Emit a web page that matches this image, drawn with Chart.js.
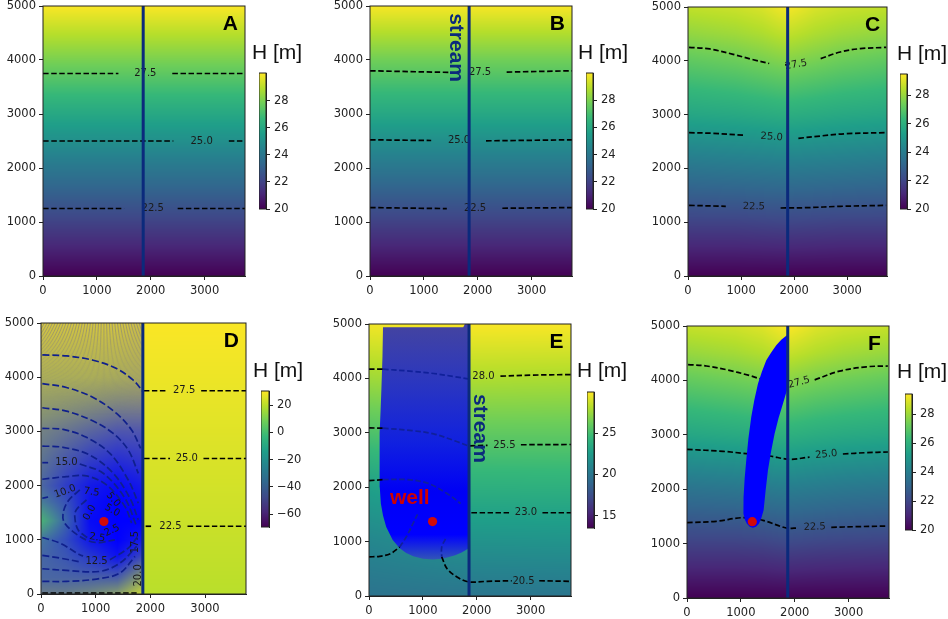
<!DOCTYPE html>
<html>
<head>
<meta charset="utf-8">
<title>Head maps</title>
<script src="https://cdn.jsdelivr.net/npm/chart.js@4"></script>
<style>
  html, body { margin: 0; background: #fff; }
  body { position: relative; width: 948px; height: 619px; overflow: hidden; }
  canvas { position: absolute; filter: blur(0.3px); }
  .hlabel { position: absolute; font: 21px "Liberation Sans", sans-serif; color: #111; line-height: 24px; white-space: nowrap; }
</style>
</head>
<body>
<script>
// ---- axis ticks
const xTickValues = [0, 1000, 2000, 3000];
const yTickValues = [0, 1000, 2000, 3000, 4000, 5000];
const barTicksTen = [20, 22, 24, 26, 28];
const barTicksD = [-60, -40, -20, 0, 20];
const barTicksE = [15, 20, 25];

// ---- field values (head in metres)
const xsFlat = [0, 3750];
const ysFlat = [0, 1000, 2000, 3000, 4000, 5000];
const headsA = [[20, 20], [22, 22], [24, 24], [26, 26], [28, 28], [30, 30]];
const headsB = [[20, 20], [21.95, 21.95], [23.95, 23.95], [25.95, 25.95], [27.8, 27.8], [29.9, 29.9]];

const xsBowl = [0, 900, 1400, 1870, 2400, 2900, 3750];
const ysBowl = [0, 1000, 2000, 3000, 4000, 4500, 5000];
const headsC = [
  [20, 20, 20, 20, 20, 20, 20],
  [21.9, 21.9, 21.95, 22, 21.95, 21.9, 21.9],
  [23.7, 23.8, 23.85, 23.9, 23.85, 23.8, 23.7],
  [25.6, 25.7, 25.8, 25.9, 25.8, 25.7, 25.6],
  [27.1, 27.3, 27.5, 27.7, 27.5, 27.3, 27.1],
  [27.9, 28.1, 28.3, 28.6, 28.3, 28.1, 27.9],
  [28.6, 28.75, 28.95, 29.4, 28.95, 28.75, 28.6]
];
const headsF = [
  [20, 20, 20, 20, 20, 20, 20],
  [21.85, 21.85, 21.9, 22.05, 21.95, 21.9, 21.85],
  [23.6, 23.7, 23.85, 23.95, 23.85, 23.75, 23.65],
  [25.55, 25.7, 25.8, 25.95, 25.8, 25.7, 25.6],
  [27.1, 27.3, 27.45, 27.7, 27.45, 27.3, 27.1],
  [27.9, 28.1, 28.3, 28.6, 28.3, 28.1, 27.9],
  [28.6, 28.75, 28.95, 29.4, 28.95, 28.75, 28.6]
];

const xsWellD = [0, 450, 900, 1400, 1860];
const ysWellD = [0, 300, 700, 1000, 1350, 1700, 2000, 3000, 4000, 5000];
const headsDleft = [
  [21, 20, 20, 21, 24],
  [15, 16, 17, 18, 22],
  [14, 14, 14, 16, 20],
  [10, 13, 14, 16, 20],
  [2, 10, 14, 16, 20],
  [10, 14, 15, 16, 20],
  [16, 17, 17, 18, 21],
  [22, 22, 22, 23, 24],
  [26, 26, 26, 26, 27],
  [30, 30, 30, 30, 30]
];
const plumeAlphaD = [
  [.45, .45, .4, .3, .05],
  [.52, .54, .56, .58, .3],
  [.52, .6, .74, .92, .68],
  [.44, .64, .9, 1, .88],
  [.08, .52, .95, 1, 1],
  [.4, .62, .92, 1, .94],
  [.52, .72, .88, .95, .88],
  [.42, .48, .55, .62, .62],
  [.18, .18, .18, .2, .22],
  [0, 0, 0, 0, .04]
];
const headsDright = [[20, 20], [22, 22], [24, 24], [26, 26], [28, 28], [30, 30]];

const xsE = [0, 1870, 3750];
const headsE = [
  [19.8, 19.95, 20],
  [21.1, 21.9, 21.95],
  [22.8, 23.9, 23.95],
  [25.3, 25.9, 25.9],
  [27.6, 28, 27.9],
  [29.7, 29.9, 29.9]
];

// ---- contours, one array per unbroken piece, [x, y]
const contoursA = [
  [[0, 3750], [1400, 3750]], [[2400, 3750], [3750, 3750]],
  [[0, 2500], [2420, 2500]], [[3450, 2500], [3720, 2500]],
  [[0, 1250], [1505, 1250]], [[2500, 1250], [3750, 1250]]
];
const contourLabelsA = [['27.5', 1900, 3750, 0], ['25.0', 2945, 2500, 0], ['22.5', 2037, 1250, 0]];

const contoursB = [
  [[0, 3800], [1490, 3770]], [[2537, 3776], [3750, 3800]],
  [[0, 2522], [1136, 2509]], [[2154, 2503], [3750, 2522]],
  [[0, 1267], [1426, 1248]], [[2457, 1255], [3750, 1267]]
];
const contourLabelsB = [['27.5', 2043, 3770, 0], ['25.0', 1654, 2509, 0], ['22.5', 1950, 1248, 0]];

const contoursC = [
  [[20, 4250], [410, 4220], [850, 4120], [1230, 4020], [1530, 3950]],
  [[1830, 3930], [1880, 3920]],
  [[2500, 4040], [2870, 4164], [3245, 4226], [3735, 4250]],
  [[20, 2664], [470, 2652], [1077, 2615]],
  [[2080, 2559], [2490, 2602], [2990, 2646], [3735, 2664]],
  [[20, 1313], [712, 1295]],
  [[1745, 1264], [2237, 1270], [2867, 1295], [3735, 1313]]
];
const contourLabelsC = [['27.5', 2035, 3928, -10], ['25.0', 1575, 2584, 4], ['22.5', 1241, 1289, 1]];

const contoursDnavy = [
  [[24, 4411], [465, 4393], [954, 4313], [1382, 4160], [1688, 3945], [1860, 3742]],
  [[24, 3883], [465, 3810], [954, 3626], [1382, 3331], [1657, 3025], [1823, 2687]],
  [[24, 3436], [465, 3374], [954, 3190], [1321, 2963], [1596, 2656], [1780, 2227]],
  [[24, 3055], [404, 3037], [832, 2890], [1260, 2595], [1596, 2104], [1780, 1675]],
  [[24, 2730], [404, 2706], [893, 2564], [1321, 2227], [1627, 1767], [1780, 1368]],
  [[24, 2423], [130, 2423]],
  [[710, 2399], [1138, 2227], [1535, 1767], [1750, 1245]],
  [[24, 2117], [465, 2166], [832, 2178], [1199, 2012], [1535, 1613], [1657, 1307]],
  [[24, 1767], [130, 1790]],
  [[710, 1920], [500, 1720], [404, 1490], [434, 1307], [710, 1061], [1000, 950], [1350, 1000]],
  [[832, 1736], [650, 1560], [618, 1430], [679, 1184], [860, 1030]],
  [[24, 1043], [343, 939], [710, 724], [770, 700]],
  [[1260, 632], [1596, 847], [1760, 1050]],
  [[24, 712], [343, 663], [740, 589]],
  [[24, 466], [465, 435], [1077, 417], [1443, 570], [1750, 877]],
  [[24, 233], [465, 233], [1016, 276], [1443, 386], [1719, 693]]
];
const contoursDblack = [
  [[24, 18], [1750, 18]],
  [[1880, 3750], [2300, 3750]], [[2930, 3750], [3750, 3750]],
  [[1884, 2500], [2360, 2500]], [[2972, 2500], [3750, 2500]],
  [[1914, 1250], [2043, 1250]], [[2680, 1250], [3750, 1250]]
];
const contourLabelsD = [
  ['27.5', 2618, 3750, 0], ['25.0', 2667, 2500, 0], ['22.5', 2367, 1250, 0],
  ['15.0', 465, 2423, 0], ['10.0', 440, 1890, -20], ['7.5', 925, 1880, 8],
  ['5.0', 1320, 1740, 50], ['5.0', 1300, 1540, 30], ['0.0', 890, 1500, -60],
  ['2.5', 1030, 1040, 8], ['2.5', 1300, 1170, -25], ['12.5', 1016, 601, 0],
  ['17.5', 1719, 957, -90], ['20.0', 1780, 344, -90]
];

const contoursEnavy = [
  [[260, 4170], [800, 4130], [1200, 4090], [1600, 4030], [1840, 3990]],
  [[260, 3085], [800, 3040], [1200, 2980], [1600, 2850], [1840, 2760]],
  [[260, 2140], [700, 2140], [1100, 2070], [1500, 1850], [1700, 1700]],
  [[570, 900], [700, 1100], [800, 1300], [900, 1500]],
  [[1420, 1050], [1350, 900], [1350, 720]]
];
const contoursEblack = [
  [[0, 4170], [260, 4170]], [[2440, 4040], [3000, 4060], [3750, 4070]],
  [[0, 3090], [260, 3085]], [[1870, 2760], [2200, 2770]], [[2820, 2780], [3750, 2785]],
  [[0, 2120], [260, 2140]], [[1900, 1530], [2600, 1530]], [[3220, 1530], [3750, 1530]],
  [[0, 720], [200, 730], [400, 780], [570, 900]],
  [[1350, 720], [1450, 500], [1650, 340], [1850, 260], [2200, 270], [2650, 280]],
  [[3160, 280], [3750, 270]]
];
const contourLabelsE = [['28.0', 2124, 4030, 0], ['25.5', 2515, 2773, 0], ['23.0', 2913, 1534, 0], ['20.5', 2870, 276, 0]];

const contoursF = [
  [[20, 4290], [360, 4265], [730, 4197], [1160, 4090], [1380, 4020]],
  [[2370, 4010], [2830, 4170], [3330, 4250], [3730, 4265]],
  [[0, 2733], [670, 2696], [1100, 2653], [1534, 2610], [1905, 2550], [2275, 2590]],
  [[2894, 2647], [3330, 2672], [3730, 2684]],
  [[0, 1385], [544, 1410], [1040, 1477], [1410, 1428], [1843, 1287], [2060, 1287]],
  [[2678, 1299], [3140, 1311], [3730, 1323]]
];
const contourLabelsF = [['27.5', 2080, 3960, -15], ['25.0', 2585, 2640, -5], ['22.5', 2370, 1305, -2]];

// ---- pumped zones
const plumeE = [
  [260, 4940], [1750, 4940], [1780, 5000], [1840, 5000], [1840, 870], [1720, 800], [1600, 750], [1470, 712], [1350, 685], [1190, 670],
  [1000, 685], [820, 730], [690, 790], [570, 880], [440, 1030], [320, 1270], [260, 1480], [220, 1700], [200, 2000], [195, 2500], [200, 3000],
  [215, 3400], [230, 3800], [250, 4400], [260, 4940]
];
const plumeF = [
  [1855, 4828], [1750, 4745], [1657, 4645], [1560, 4510], [1472, 4369], [1390, 4160], [1317, 3940], [1250, 3640],
  [1193, 3327], [1140, 2930], [1100, 2530], [1070, 2190], [1050, 1857], [1045, 1700], [1050, 1550], [1075, 1440],
  [1113, 1366], [1165, 1310], [1224, 1293], [1280, 1310], [1335, 1366], [1380, 1470], [1422, 1611], [1460, 1980],
  [1503, 2347], [1560, 2690], [1626, 3020], [1700, 3310], [1781, 3572], [1855, 3817], [1855, 4828]
];
const wellD = [[1150, 1338]];
const wellE = [[1180, 1368]];
const wellF = [[1212, 1403]];

const NAVY = '#0b2a7c';
const viridisStops = ['#440154', '#482878', '#3e4a89', '#31688e', '#26828e', '#1f9e89', '#35b779', '#6ece58', '#b5de2b', '#fde725'];
const rgbStops = viridisStops.map(h => [1, 3, 5].map(i => parseInt(h.substr(i, 2), 16)));

function viridis(t) {
  t = Math.max(0, Math.min(1, t)) * (rgbStops.length - 1);
  const i = Math.min(rgbStops.length - 2, Math.floor(t));
  const f = t - i;
  return rgbStops[i].map((c, k) => c + (rgbStops[i + 1][k] - c) * f);
}

function sample(xs, ys, grid, x, y) {
  let i = 0, j = 0;
  while (i < xs.length - 2 && x > xs[i + 1]) i++;
  while (j < ys.length - 2 && y > ys[j + 1]) j++;
  const fx = Math.max(0, Math.min(1, (x - xs[i]) / (xs[i + 1] - xs[i])));
  const fy = Math.max(0, Math.min(1, (y - ys[j]) / (ys[j + 1] - ys[j])));
  const a = grid[j][i] + (grid[j][i + 1] - grid[j][i]) * fx;
  const b = grid[j + 1][i] + (grid[j + 1][i + 1] - grid[j + 1][i]) * fx;
  return a + (b - a) * fy;
}

function paintField(chart, panel) {
  const { x: sx, y: sy } = chart.scales;
  const ctx = chart.ctx;
  panel.fields.forEach(f => {
    const x0 = Math.round(sx.getPixelForValue(f.from));
    const x1 = Math.round(sx.getPixelForValue(f.to));
    const y0 = Math.round(sy.getPixelForValue(5000));
    const y1 = Math.round(sy.getPixelForValue(0));
    const w = x1 - x0, h = y1 - y0;
    const off = document.createElement('canvas');
    off.width = w; off.height = h;
    const octx = off.getContext('2d');
    const img = octx.createImageData(w, h);
    for (let py = 0; py < h; py++) {
      const vy = sy.getValueForPixel(y0 + py + 0.5);
      for (let px = 0; px < w; px++) {
        const vx = sx.getValueForPixel(x0 + px + 0.5);
        const H = sample(f.xs, f.ys, f.heads, vx, vy);
        let c = viridis((H - panel.vmin) / (panel.vmax - panel.vmin));
        if (f.alpha) {
          const al = sample(f.xs, f.ys, f.alpha, vx, vy);
          c = [c[0] * (1 - al), c[1] * (1 - al), c[2] * (1 - al) + 255 * al];
        }
        const k = (py * w + px) * 4;
        img.data[k] = c[0]; img.data[k + 1] = c[1]; img.data[k + 2] = c[2]; img.data[k + 3] = 255;
      }
    }
    octx.putImageData(img, 0, 0);
    ctx.drawImage(off, x0, y0);
  });
}

// thin pathlines fanning out of the well, they beat against the pixel grid in panel D
function paintFan(chart) {
  const { x: sx, y: sy } = chart.scales;
  const left = sx.getPixelForValue(0), right = sx.getPixelForValue(1840);
  const top = sy.getPixelForValue(5000), bottom = sy.getPixelForValue(3300);
  const off = document.createElement('canvas');
  off.width = chart.width; off.height = chart.height;
  const o = off.getContext('2d');
  o.lineWidth = 0.7;
  o.strokeStyle = 'rgb(110,110,140)';
  const wx = sx.getPixelForValue(wellD[0][0]), wy = sy.getPixelForValue(wellD[0][1]);
  for (let v = -1500; v < 3000; v += 29) {
    o.beginPath();
    o.moveTo(wx, wy);
    o.lineTo(sx.getPixelForValue(v), top);
    o.stroke();
  }
  o.globalCompositeOperation = 'destination-in';
  const g = o.createLinearGradient(0, top, 0, bottom);
  g.addColorStop(0, 'rgba(0,0,0,0.95)');
  g.addColorStop(0.4, 'rgba(0,0,0,0.5)');
  g.addColorStop(1, 'rgba(0,0,0,0)');
  o.fillStyle = g;
  o.fillRect(0, 0, off.width, off.height);
  chart.ctx.save();
  chart.ctx.beginPath();
  chart.ctx.rect(left, top, right - left, bottom - top);
  chart.ctx.clip();
  chart.ctx.drawImage(off, 0, 0);
  chart.ctx.restore();
}

function paintLabels(chart, panel) {
  const { x: sx, y: sy } = chart.scales;
  const ctx = chart.ctx;
  ctx.save();
  ctx.font = '10px "DejaVu Sans"';
  ctx.fillStyle = '#1a1a1a';
  ctx.textAlign = 'center';
  ctx.textBaseline = 'middle';
  panel.labels.forEach(([txt, x, y, rot]) => {
    ctx.save();
    ctx.translate(sx.getPixelForValue(x), sy.getPixelForValue(y));
    ctx.rotate(rot * Math.PI / 180);
    ctx.fillText(txt, 0, 0);
    ctx.restore();
  });
  ctx.restore();
}

const fieldPlugin = {
  id: 'fieldPlugin',
  beforeDatasetsDraw(chart) {
    const panel = chart.options.plugins.fieldPlugin.panel;
    paintField(chart, panel);
    if (panel.fan) paintFan(chart);
  },
  beforeDatasetDraw(chart, args) {
    if (chart.data.datasets[args.index].isStream) paintLabels(chart, chart.options.plugins.fieldPlugin.panel);
  },
  afterDatasetsDraw(chart) {
    const panel = chart.options.plugins.fieldPlugin.panel;
    const { x: sx, y: sy } = chart.scales;
    const ctx = chart.ctx;
    const a = chart.chartArea;
    ctx.save();
    ctx.strokeStyle = '#222';
    ctx.lineWidth = 1;
    ctx.strokeRect(a.left, a.top, a.right - a.left, a.bottom - a.top);
    ctx.textAlign = 'center';
    ctx.textBaseline = 'middle';
    ctx.font = 'bold 21px "Liberation Sans"';
    ctx.fillStyle = '#000';
    ctx.fillText(panel.letter, sx.getPixelForValue(3480), sy.getPixelForValue(4670));
    if (panel.stream) {
      ctx.fillStyle = NAVY;
      ctx.translate(sx.getPixelForValue(panel.stream[0]), sy.getPixelForValue(panel.stream[1]));
      ctx.rotate(Math.PI / 2);
      ctx.fillText('stream', 0, 0);
      ctx.setTransform(1, 0, 0, 1, 0, 0);
    }
    if (panel.well) {
      ctx.fillStyle = '#d00000';
      ctx.fillText('well', sx.getPixelForValue(panel.well[0]), sy.getPixelForValue(panel.well[1]));
    }
    ctx.restore();
  }
};

const framePlugin = {
  id: 'framePlugin',
  afterDraw(chart) {
    const a = chart.chartArea, ctx = chart.ctx;
    ctx.save();
    ctx.strokeStyle = '#222';
    ctx.lineWidth = 1;
    ctx.strokeRect(a.left, a.top, a.right - a.left, a.bottom - a.top);
    ctx.restore();
  }
};

function toPoints(arr) {
  return arr.map(p => ({ x: p[0], y: p[1] }));
}

function contourSets(pieces, color, order, dash) {
  return pieces.map(p => ({
    data: toPoints(p), showLine: true, pointRadius: 0, borderColor: color, borderWidth: 1.7,
    borderDash: dash || [5.5, 2.6], tension: 0.35, fill: false, order: order
  }));
}

function plumeSet(points, fillColor) {
  return {
    data: toPoints(points), showLine: true, pointRadius: 0, borderWidth: 0, borderColor: 'rgba(0,0,0,0)',
    backgroundColor: fillColor, fill: 'shape', tension: 0, order: 3
  };
}

function streamSet(x) {
  return {
    isStream: true, data: toPoints([[x, 0], [x, 5000]]), showLine: true, pointRadius: 0,
    borderColor: NAVY, borderWidth: 3, order: 1
  };
}

function wellSet(points) {
  return {
    data: toPoints(points), showLine: false, pointRadius: 4.6, pointBackgroundColor: '#d10a0a',
    pointBorderWidth: 0, order: 0
  };
}

// plume E fades from washed out purple at the top to pure blue, then thins at the toe
function plumeGradientE(ctx) {
  const chart = ctx.chart;
  if (!chart.chartArea) return '#0000ff';
  const sy = chart.scales.y;
  const g = chart.ctx.createLinearGradient(0, sy.getPixelForValue(5000), 0, sy.getPixelForValue(600));
  g.addColorStop(0, '#4444a0');
  g.addColorStop(0.25, '#2a36c0');
  g.addColorStop(0.5, '#1020e0');
  g.addColorStop(0.7, '#0000f5');
  g.addColorStop(0.88, '#0000ff');
  g.addColorStop(1, '#3a62ac');
  return g;
}

const panels = [
  { letter: 'A', plot: [43, 6, 202, 270], cbar: [259, 73, 7, 136], hpos: [252, 40], vmin: 20, vmax: 30.05, barTicks: barTicksTen,
    fields: [{ from: 0, to: 3750, xs: xsFlat, ys: ysFlat, heads: headsA }], labels: contourLabelsA,
    sets: [wellSet([]), streamSet(1860), ...contourSets(contoursA, '#000', 2)] },
  { letter: 'B', plot: [370, 6, 202, 270], cbar: [586, 73, 7, 136], hpos: [578, 40], vmin: 20, vmax: 30, barTicks: barTicksTen, stream: [1593, 4230],
    fields: [{ from: 0, to: 3750, xs: xsFlat, ys: ysFlat, heads: headsB }], labels: contourLabelsB,
    sets: [streamSet(1840), ...contourSets(contoursB, '#000', 2)] },
  { letter: 'C', plot: [688, 7, 199, 269], cbar: [900, 74, 7, 135], hpos: [897, 41], vmin: 20, vmax: 29.48, barTicks: barTicksTen,
    fields: [{ from: 0, to: 3750, xs: xsBowl, ys: ysBowl, heads: headsC }], labels: contourLabelsC,
    sets: [streamSet(1878), ...contourSets(contoursC, '#000', 2)] },
  { letter: 'D', plot: [41, 323, 205, 271], cbar: [261, 391, 8, 136], hpos: [253, 358], vmin: -69.5, vmax: 30.5, barTicks: barTicksD, fan: true,
    fields: [
      { from: 0, to: 1863, xs: xsWellD, ys: ysWellD, heads: headsDleft, alpha: plumeAlphaD },
      { from: 1863, to: 3750, xs: xsFlat, ys: ysFlat, heads: headsDright }
    ], labels: contourLabelsD,
    sets: [wellSet(wellD), streamSet(1863), ...contourSets(contoursDnavy, '#10208c', 2, [7, 3]), ...contourSets(contoursDblack, '#000', 2)] },
  { letter: 'E', plot: [369, 324, 202, 272], cbar: [587, 392, 7, 136], hpos: [577, 358], vmin: 13.5, vmax: 30, barTicks: barTicksE, stream: [2060, 3080], well: [758, 1790],
    fields: [{ from: 0, to: 3750, xs: xsE, ys: ysFlat, heads: headsE }], labels: contourLabelsE,
    sets: [wellSet(wellE), streamSet(1857), ...contourSets(contoursEnavy, '#10209a', 2), ...contourSets(contoursEblack, '#000', 2), plumeSet(plumeE, plumeGradientE)] },
  { letter: 'F', plot: [687, 326, 202, 272], cbar: [905, 394, 7, 136], hpos: [897, 359], vmin: 20, vmax: 29.4, barTicks: barTicksTen,
    fields: [{ from: 0, to: 3750, xs: xsBowl, ys: ysBowl, heads: headsF }], labels: contourLabelsF,
    sets: [wellSet(wellF), streamSet(1870), plumeSet(plumeF, '#0000ff'), ...contourSets(contoursF, '#000', 4)] }
];

Chart.defaults.font.family = '"DejaVu Sans", sans-serif';
Chart.defaults.font.size = 11.5;
Chart.defaults.color = '#222';

function makeCanvas(left, top, w, h) {
  const c = document.createElement('canvas');
  c.width = w; c.height = h;
  c.style.left = left + 'px';
  c.style.top = top + 'px';
  c.style.width = w + 'px';
  c.style.height = h + 'px';
  document.body.appendChild(c);
  return c;
}

function fixedTicks(values) {
  return scale => { scale.ticks = values.map(v => ({ value: v })); };
}

const axisBits = {
  border: { color: '#222', width: 1 },
  grid: { drawOnChartArea: false, drawTicks: true, tickLength: 4, tickColor: '#222', tickWidth: 1 }
};

panels.forEach(p => {
  const [l, t, w, h] = p.plot;
  const yW = 43, xH = 24, pad = 10;
  const cv = makeCanvas(l - yW, t - pad, w + yW + pad, h + pad + xH);
  new Chart(cv, {
    type: 'scatter',
    data: { datasets: p.sets },
    plugins: [fieldPlugin],
    options: {
      responsive: false, animation: false, events: [],
      layout: { padding: { top: pad, right: pad, left: 0, bottom: 0 } },
      plugins: { legend: { display: false }, tooltip: { enabled: false }, fieldPlugin: { panel: p } },
      scales: {
        x: {
          type: 'linear', min: 0, max: 3750, ...axisBits,
          afterBuildTicks: fixedTicks(xTickValues),
          afterFit(s) { s.height = xH; },
          ticks: { maxRotation: 0, padding: 4, callback: v => String(v) }
        },
        y: {
          type: 'linear', min: 0, max: 5000, ...axisBits,
          afterBuildTicks: fixedTicks(yTickValues),
          afterFit(s) { s.width = yW; },
          ticks: { padding: 3, callback: v => String(v) }
        }
      }
    }
  });

  // colour bar is one floating bar painted with the colour map
  const [cl, ct, cw, ch] = p.cbar;
  const cbRight = 38, cbPad = 14;
  const cbCv = makeCanvas(cl, ct - cbPad, cw + cbRight, ch + cbPad * 2);
  new Chart(cbCv, {
    type: 'bar',
    data: {
      labels: ['H'],
      datasets: [{
        data: [[p.vmin, p.vmax]], categoryPercentage: 1, barPercentage: 1, borderWidth: 0,
        backgroundColor(ctx) {
          const a = ctx.chart.chartArea;
          if (!a) return '#888';
          const g = ctx.chart.ctx.createLinearGradient(0, a.bottom, 0, a.top);
          viridisStops.forEach((c, i) => g.addColorStop(i / (viridisStops.length - 1), c));
          return g;
        }
      }]
    },
    plugins: [framePlugin],
    options: {
      responsive: false, animation: false, events: [],
      layout: { padding: { top: cbPad, bottom: cbPad, left: 0, right: 0 } },
      plugins: { legend: { display: false }, tooltip: { enabled: false } },
      scales: {
        x: { display: false },
        y: {
          position: 'right', min: p.vmin, max: p.vmax, ...axisBits,
          afterBuildTicks: fixedTicks(p.barTicks),
          afterFit(s) { s.width = cbRight; },
          ticks: { padding: 4, callback: v => String(v).replace('-', '\u2212') }
        }
      }
    }
  });

  const lab = document.createElement('div');
  lab.className = 'hlabel';
  lab.textContent = 'H [m]';
  lab.style.left = p.hpos[0] + 'px';
  lab.style.top = p.hpos[1] + 'px';
  document.body.appendChild(lab);
});
</script>
</body>
</html>
